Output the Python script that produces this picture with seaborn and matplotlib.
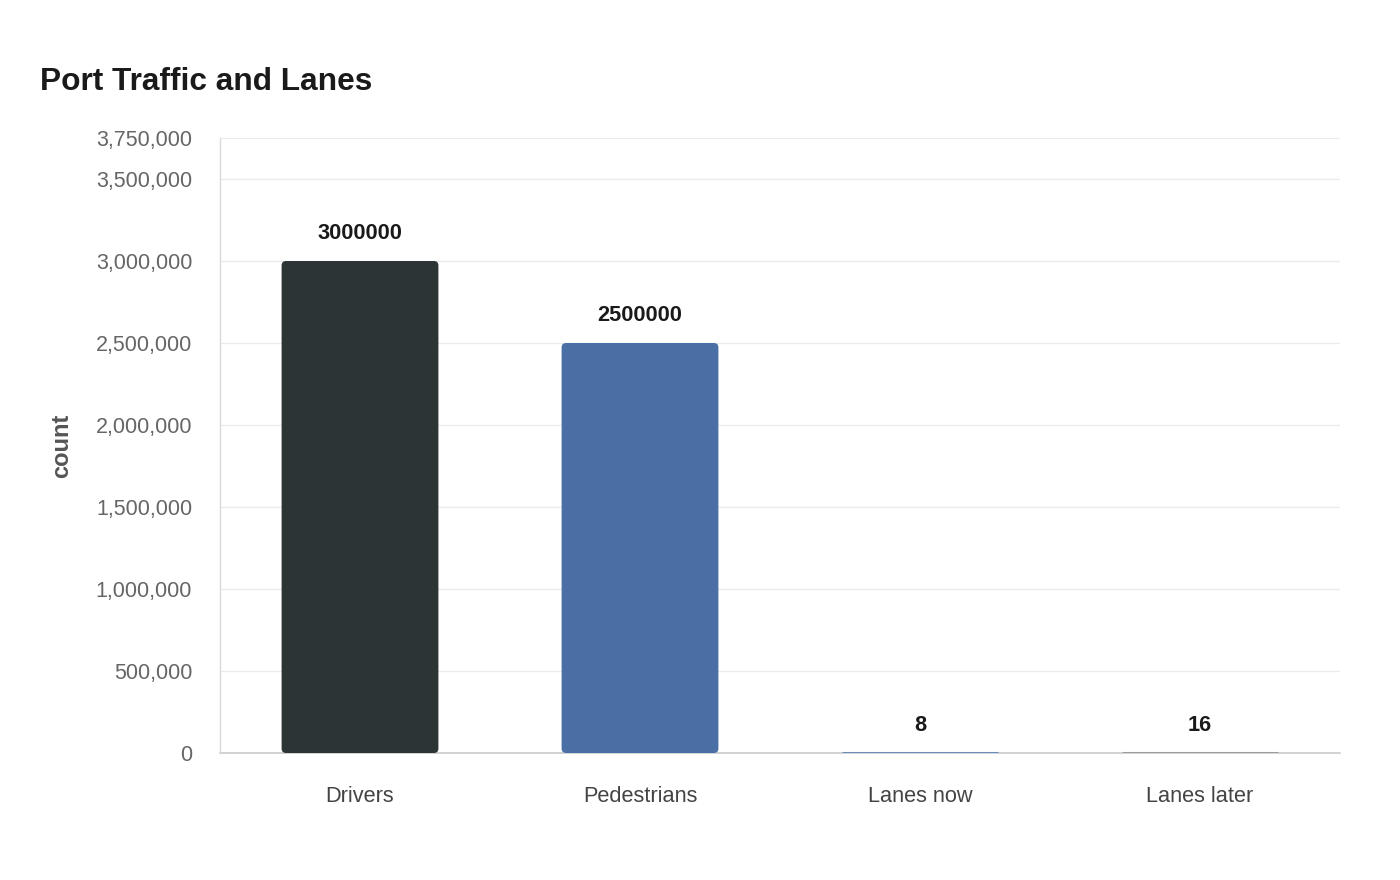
import matplotlib
matplotlib.use('Agg')
import matplotlib.pyplot as plt
import matplotlib.ticker as mticker
from matplotlib.patches import FancyBboxPatch
import seaborn as sns
import pandas as pd

# ── Data ──────────────────────────────────────────────────────────────────────

categories = ['Drivers', 'Pedestrians', 'Lanes now', 'Lanes later']
counts = [3000000, 2500000, 8, 16]
bar_colors = ['#2d3436', '#4a6fa5', '#6a8bbb', '#9a9ea3']
y_ticks = [0, 500000, 1000000, 1500000, 2000000, 2500000, 3000000, 3500000, 3750000]

df = pd.DataFrame({'category': categories, 'count': counts})

# ── Plot ──────────────────────────────────────────────────────────────────────

sns.set_style('white')
plt.rcParams['font.family'] = ['Liberation Sans', 'DejaVu Sans']

fig = plt.figure(figsize=(14, 8.8), dpi=100)
ax = fig.add_axes([220 / 1400, 1 - 753 / 880, 1120 / 1400, 615 / 880])

sns.barplot(data=df, x='category', y='count', hue='category',
            palette=bar_colors, width=0.56, legend=False, ax=ax,
            linewidth=2.2, saturation=1)

ax.set_xlim(-0.5, 3.5)
ax.set_ylim(0, 3750000)

# rounded tops on the tall bars, thin visible strip on the tiny ones
y_per_px = 3750000 / 615
x_per_px = 4 / 1120
for patch, c in zip(list(ax.patches), bar_colors):
    patch.set_edgecolor(c)
    h = patch.get_height()
    if h > 100000:
        rounded = FancyBboxPatch(
            (patch.get_x(), patch.get_y()), patch.get_width(), h,
            boxstyle='round,pad=0,rounding_size=0.016',
            mutation_aspect=y_per_px / x_per_px,
            facecolor=c, edgecolor='none', zorder=2)
        ax.add_patch(rounded)
        patch.set_visible(False)
    else:
        patch.set_zorder(3)

ax.set_yticks(y_ticks)
ax.yaxis.set_major_formatter(mticker.FuncFormatter(lambda v, p: f'{int(v):,}'))
ax.grid(axis='y', color='#ebebeb', linewidth=1)
ax.set_axisbelow(True)

for side in ['top', 'right']:
    ax.spines[side].set_visible(False)
ax.spines['left'].set_color('#d9d9d9')
ax.spines['left'].set_linestyle((0, (1, 1)))
ax.spines['left'].set_linewidth(1)
ax.spines['bottom'].set_color('#cccccc')
ax.spines['bottom'].set_linewidth(1.2)
ax.spines['bottom'].set_zorder(1.5)

ax.tick_params(axis='y', length=11, color='#ebebeb', labelsize=15.5,
               labelcolor='#666666', pad=9)
ax.tick_params(axis='x', length=0, labelsize=15.7, labelcolor='#444444', pad=24)

ax.set_xlabel('')
ax.set_ylabel('count', fontsize=17, fontweight='bold', color='#555555', labelpad=16)

for i, v in enumerate(counts):
    ax.annotate(str(v), (i, v), xytext=(0, 19.5), textcoords='offset points',
                ha='center', va='center', fontsize=15.7, fontweight='bold',
                color='#1a1a1a')

fig.text(40 / 1400, 1 - 82 / 880, 'Port Traffic and Lanes', fontsize=22.8,
         fontweight='bold', color='#1a1a1a', va='center', ha='left')

fig.savefig('out.png', dpi=100, facecolor='white')
